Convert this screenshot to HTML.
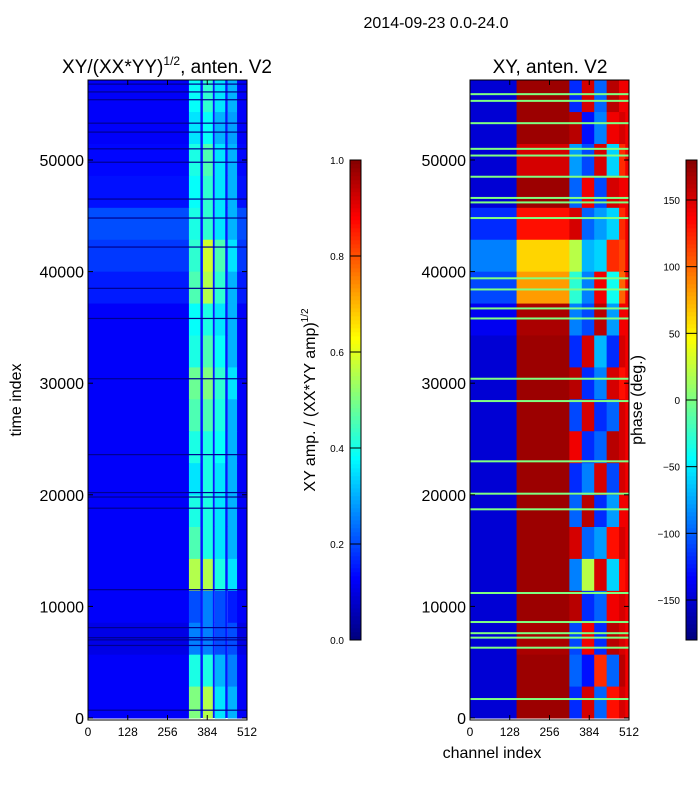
<!DOCTYPE html>
<html><head><meta charset="utf-8"><style>
body{margin:0;background:#fff;font-family:"Liberation Sans",sans-serif;}
svg text{font-family:"Liberation Sans","DejaVu Sans",sans-serif;}
</style></head><body>
<svg id="fig" width="700" height="800" xmlns="http://www.w3.org/2000/svg">
<rect width="700" height="800" fill="#fff"/>
<text x="436" y="28" font-size="16" text-anchor="middle">2014-09-23 0.0-24.0</text>
<text x="167" y="73" font-size="19" text-anchor="middle">XY/(XX*YY)<tspan font-size="12" dy="-8">1/2</tspan><tspan dy="8">, anten. V2</tspan></text>
<text x="550" y="73" font-size="19" text-anchor="middle">XY, anten. V2</text>
<text transform="translate(21,400) rotate(-90)" font-size="16" text-anchor="middle">time index</text>
<text x="492" y="758" font-size="16" text-anchor="middle">channel index</text>
<text transform="translate(315,400) rotate(-90)" font-size="16" text-anchor="middle">XY amp. / (XX*YY amp)<tspan font-size="10" dy="-7">1/2</tspan></text>
<text transform="translate(642,400) rotate(-90)" font-size="16" text-anchor="middle">phase (deg.)</text>
<g id="left"></g>
<g id="right"></g>
<g id="cb"></g>
</svg>
<script>
const chanBandsL=[[0,325],[325,362],[370,402],[408,442],[450,480],[480,512]];
const ampBrightRows=[[0.5,0.55,0.35,0.3],[0.4,0.4,0.3,0.25],[0.25,0.25,0.2,0.2],[0.2,0.25,0.2,0.15],[0.55,0.55,0.4,0.35],[0.45,0.4,0.35,0.3],[0.4,0.4,0.35,0.3],[0.35,0.4,0.35,0.3],[0.4,0.4,0.38,0.3],[0.45,0.45,0.4,0.3],[0.48,0.5,0.42,0.35],[0.4,0.45,0.38,0.3],[0.38,0.4,0.35,0.3],[0.45,0.55,0.42,0.3],[0.42,0.58,0.45,0.35],[0.4,0.42,0.35,0.3],[0.38,0.42,0.35,0.3],[0.4,0.45,0.35,0.3],[0.35,0.38,0.3,0.28],[0.38,0.42,0.35,0.3]];
const ampBackground=[0.12,0.12,0.1,0.12,0.12,0.12,0.12,0.12,0.12,0.12,0.12,0.12,0.12,0.15,0.18,0.2,0.14,0.13,0.12,0.12];
const chanBandsR=[[0,150],[150,320],[320,360],[360,400],[400,440],[440,480],[480,500],[500,512]];
const phaseRows=[[-150,170,-120,150,-100,130,150,140],[-150,170,-100,-130,120,-100,160,140],[-150,165,-110,140,-120,160,150,140],[-150,170,160,-120,-100,140,150,140],[-150,170,-90,20,150,-60,130,140],[-150,170,150,-100,-80,130,150,140],[-150,170,-100,160,-120,-80,140,140],[-150,170,-120,-90,150,-110,150,140],[-150,170,140,-120,-100,160,150,140],[-150,170,-110,150,-120,-100,150,140],[-150,170,160,-120,-90,150,130,140],[-150,170,-120,150,-70,-120,150,140],[-140,165,-90,-110,160,-80,140,140],[-110,80,-30,-90,140,-40,100,140],[-90,60,20,-70,-60,120,110,140],[-120,130,150,-100,-80,-60,120,140],[-150,170,-100,140,-110,150,140,140],[-150,150,-80,-110,150,-60,120,140],[-150,170,160,-130,-90,140,150,140],[-150,170,-120,150,-100,160,140,140]];
const gapTimes=[700,6500,7000,7200,8100,11500,18800,19800,20200,23600,30400,35800,38500,42200,44800,46500,49800,51000,52500,53300,55400,56100,56800];
const greenLineTimes=[1700,6300,7200,7600,8600,11200,18700,20100,23000,28400,30400,35800,36700,38400,39400,44800,46200,46600,48500,50400,51000,53300,55300,55900];
const amps=[0,0.2,0.4,0.6,0.8,1.0];
const phaseTicks=[-150,-100,-50,0,50,100,150];
const NS="http://www.w3.org/2000/svg";
function el(t,a,p){const e=document.createElementNS(NS,t);for(const k in a)e.setAttribute(k,a[k]);p.appendChild(e);return e;}
function jet(v){v=Math.max(0,Math.min(1,v));const f=x=>Math.round(255*Math.max(0,Math.min(1,1.5-Math.abs(4*v-x))));return `rgb(${f(3)},${f(2)},${f(1)})`;}
const TMAX=57200,Y0=718,YS=558/50000;
const ty=t=>Y0-t*YS;
function makeX(x0){return c=>x0+c*159/512;}
const xL=makeX(88),xR=makeX(470);
const rowH=TMAX/ampBrightRows.length;
const L=document.getElementById('left'),R=document.getElementById('right'),CB=document.getElementById('cb');
ampBrightRows.forEach((row,i)=>{
  const t0=i*rowH,t1=(i+1)*rowH;
  chanBandsL.forEach((b,j)=>{
    const v=(j===0||j===5)?ampBackground[i]:row[j-1];
    const r=el('rect',{x:xL(b[0]),y:ty(t1),width:xL(b[1])-xL(b[0])+0.5,height:ty(t0)-ty(t1)+0.5,fill:jet(v)},L);
    
    
  });
});
[[362,370],[402,408],[442,450]].forEach(g=>{const r=el('rect',{x:xL(g[0]),y:ty(TMAX),width:xL(g[1])-xL(g[0]),height:ty(0)-ty(TMAX),fill:jet(0.15)},L);});
gapTimes.forEach(t=>{const r=el('rect',{x:88,y:ty(t)-0.6,width:159,height:1.2,fill:'#000090'},L);});
const phRowH=TMAX/phaseRows.length;
phaseRows.forEach((row,i)=>{
  const t0=i*phRowH,t1=(i+1)*phRowH;
  chanBandsR.forEach((b,j)=>{
    const r=el('rect',{x:xR(b[0]),y:ty(t1),width:xR(b[1])-xR(b[0])+0.5,height:ty(t0)-ty(t1)+0.5,fill:jet((row[j]+180)/360)},R);
    
    
  });
});
greenLineTimes.forEach(t=>{const r=el('rect',{x:470,y:ty(t)-1,width:159,height:2,fill:jet(0.5)},R);});
[[88,'left'],[470,'right']].forEach(([x0,nm])=>{
  const g=nm==='left'?L:R;
  const f=el('rect',{x:x0,y:80,width:159,height:640,fill:'none',stroke:'#000','stroke-width':1},g);
  
  [0,128,256,384,512].forEach(c=>{const X=x0+c*159/512;
    el('line',{x1:X,x2:X,y1:720,y2:715,stroke:'#000'},g);el('line',{x1:X,x2:X,y1:80,y2:85,stroke:'#000'},g);
    const t=el('text',{x:X,y:736,'font-size':12,'text-anchor':'middle'},g);t.textContent=c;
    });
  [0,10000,20000,30000,40000,50000].forEach(v=>{const Y=ty(v);
    el('line',{x1:x0,x2:x0+5,y1:Y,y2:Y,stroke:'#000'},g);el('line',{x1:x0+159,x2:x0+154,y1:Y,y2:Y,stroke:'#000'},g);
    const t=el('text',{x:x0-4,y:Y+6,'font-size':16,'text-anchor':'end'},g);t.textContent=v;
    });
});
function colorbar(x,ticks,lo,hi,nm){
  for(let i=0;i<120;i++){const v=i/120;el('rect',{x:x,y:640-(i+1)*4,width:11,height:4.3,fill:jet(v)},CB);}
  const f=el('rect',{x:x,y:160,width:11,height:480,fill:'none',stroke:'#000'},CB);
  
  ticks.forEach(v=>{const Y=640-(v-lo)/(hi-lo)*480;el('line',{x1:x,x2:x+11,y1:Y,y2:Y,stroke:'#000'},CB);
    const t=el('text',{x:x-6,y:Y+4,'font-size':10,'text-anchor':'end'},CB);t.textContent=(nm==='amp-colorbar')?v.toFixed(1):(v<0?'\u2212'+(-v):v);
    });
}
colorbar(350,amps,0,1,'amp-colorbar');
colorbar(686,phaseTicks,-180,180,'phase-colorbar');
</script>
</body></html>
